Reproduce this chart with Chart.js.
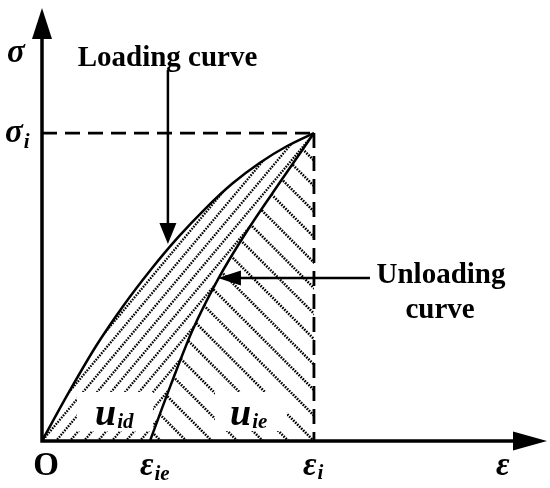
<!DOCTYPE html>
<html><head><meta charset="utf-8">
<script src="https://cdn.jsdelivr.net/npm/chart.js@4.4.0/dist/chart.umd.min.js"></script>
<style>html,body{margin:0;padding:0;background:#fff}#wrap{width:550px;height:488px;position:relative}</style>
</head><body><div id="wrap"><canvas id="c"></canvas></div>
<script>
// ---- data (strain normalised to eps_i, stress normalised to sigma_i) ----
const loadStrain   = [0, 0.1, 0.2, 0.3, 0.4, 0.5, 0.6, 0.7, 0.8, 0.9, 1.0];
const loadStress   = [0, 0.16, 0.31, 0.44, 0.556, 0.661, 0.754, 0.836, 0.903, 0.957, 1.0];
const unloadStrain = [0.397, 0.474, 0.551, 0.647, 0.754, 0.875, 1.0];
const unloadStress = [0, 0.183, 0.355, 0.525, 0.682, 0.840, 1.0];
const peakStrain = [1.0];
const peakStress = [1.0];
const strainTickValues = [0, 0.397, 1.0];
const strainTickLabels = [['O', ''], ['ε', 'ie'], ['ε', 'i']];
const stressTickValues = [1.0];
const stressTickLabels = [['σ', 'i']];
const axisTitles = ['ε', 'σ'];
const curveNotes = ['Loading curve', 'Unloading', 'curve'];
const areaNotes = [['u', 'id'], ['u', 'ie']];

const pts = (xs, ys) => xs.map((x, i) => ({x, y: ys[i]}));
const SERIF = '"Liberation Serif","Times New Roman",serif';

function trace(ctx, P, reverse, first) {
  const n = P.length;
  const hasCp = P[0].cp1x !== undefined;
  if (!reverse) {
    first ? ctx.moveTo(P[0].x, P[0].y) : ctx.lineTo(P[0].x, P[0].y);
    for (let i = 1; i < n; i++) {
      if (hasCp) ctx.bezierCurveTo(P[i-1].cp2x, P[i-1].cp2y, P[i].cp1x, P[i].cp1y, P[i].x, P[i].y);
      else ctx.lineTo(P[i].x, P[i].y);
    }
  } else {
    first ? ctx.moveTo(P[n-1].x, P[n-1].y) : ctx.lineTo(P[n-1].x, P[n-1].y);
    for (let i = n - 2; i >= 0; i--) {
      if (hasCp) ctx.bezierCurveTo(P[i+1].cp1x, P[i+1].cp1y, P[i].cp2x, P[i].cp2y, P[i].x, P[i].y);
      else ctx.lineTo(P[i].x, P[i].y);
    }
  }
}

function hatch(ctx, y0, dir, spacing, angleDeg, anchorX) {
  const k = 1 / Math.tan(angleDeg * Math.PI / 180);
  ctx.beginPath();
  for (let c = anchorX - 60 * spacing; c < anchorX + 60 * spacing; c += spacing) {
    const yTop = -20, yBot = y0 + 20;
    ctx.moveTo(c + dir * (y0 - yBot) * k, yBot);
    ctx.lineTo(c + dir * (y0 - yTop) * k, yTop);
  }
  ctx.stroke();
}

function arrowHead(ctx, tx, ty, dx, dy, len, half) {
  const bx = tx - dx * len, by = ty - dy * len;
  ctx.beginPath();
  ctx.moveTo(tx, ty);
  ctx.lineTo(bx - dy * half, by + dx * half);
  ctx.lineTo(bx + dy * half, by - dx * half);
  ctx.closePath();
  ctx.fill();
}

function subText(ctx, main, sub, x, y, mainFont, subFont, dy) {
  ctx.font = mainFont;
  ctx.textAlign = 'left';
  ctx.fillText(main, x, y);
  const w = ctx.measureText(main).width;
  ctx.font = subFont;
  ctx.fillText(sub, x + w + 1, y + dy);
}

const sketch = {
  id: 'sketch',
  beforeDatasetsDraw(chart) {
    const ctx = chart.ctx, xs = chart.scales.x, ys = chart.scales.y;
    const mL = chart.getDatasetMeta(0), mU = chart.getDatasetMeta(1);
    try { mL.dataset.updateControlPoints(chart.chartArea, 'x'); mU.dataset.updateControlPoints(chart.chartArea, 'x'); } catch (e) {}
    const L = mL.data, U = mU.data;
    const y0 = ys.getPixelForValue(0);
    const xp = xs.getPixelForValue(peakStrain[0]);
    ctx.save();
    ctx.strokeStyle = '#000';
    ctx.lineWidth = 2.3;
    ctx.setLineDash([1.6, 1.2]);
    // region u_id : between loading and unloading curves
    ctx.save();
    ctx.beginPath();
    trace(ctx, L, false, true);
    trace(ctx, U, true, false);
    ctx.closePath();
    ctx.clip();
    hatch(ctx, y0, 1, 14, 50, xs.getPixelForValue(0));
    ctx.restore();
    // region u_ie : under the unloading curve up to eps_i
    ctx.save();
    ctx.lineWidth = 2.6;
    ctx.beginPath();
    trace(ctx, U, false, true);
    ctx.lineTo(xp, y0);
    ctx.closePath();
    ctx.clip();
    hatch(ctx, y0, -1, 25.5, 45, xp);
    ctx.restore();
    ctx.restore();
    // white patches behind area labels
    ctx.save();
    ctx.fillStyle = '#fff';
    const xe = xs.getPixelForValue(strainTickValues[1]);
    ctx.fillRect(xs.getPixelForValue(0) + 35, y0 - 49, xe - xs.getPixelForValue(0) - 32, 39);
    ctx.fillRect(xe + 65, y0 - 49, 72, 39);
    ctx.restore();
  },
  afterDatasetsDraw(chart) {
    const ctx = chart.ctx, xs = chart.scales.x, ys = chart.scales.y;
    const x0 = xs.getPixelForValue(0), y0 = ys.getPixelForValue(0);
    const xEnd = chart.chartArea.right, yEnd = chart.chartArea.top;
    ctx.save();
    ctx.fillStyle = '#000';
    ctx.strokeStyle = '#000';
    // axes
    ctx.lineWidth = 3.5;
    ctx.beginPath();
    ctx.moveTo(x0, y0 + 1.5);
    ctx.lineTo(x0, yEnd + 25);
    ctx.moveTo(x0 - 1.5, y0);
    ctx.lineTo(xEnd - 25, y0);
    ctx.stroke();
    arrowHead(ctx, x0, yEnd, 0, -1, 31, 10);
    arrowHead(ctx, xEnd, y0, 1, 0, 34, 9.5);
    // annotation arrows
    ctx.lineWidth = 2.5;
    const ax = xs.getPixelForValue(0.463);
    const aTip = ys.getPixelForValue(0.64);
    ctx.beginPath();
    ctx.moveTo(ax, ys.getPixelForValue(1.205));
    ctx.lineTo(ax, aTip - 15);
    ctx.stroke();
    arrowHead(ctx, ax, aTip, 0, 1, 21, 8.5);
    const by = ys.getPixelForValue(0.529);
    const bTip = xs.getPixelForValue(0.647);
    ctx.beginPath();
    ctx.moveTo(xs.getPixelForValue(1.206), by);
    ctx.lineTo(bTip + 15, by);
    ctx.stroke();
    arrowHead(ctx, bTip, by, -1, 0, 23, 7.5);

    // texts
    ctx.textBaseline = 'alphabetic';
    const big = 'bold 29px ' + SERIF;
    ctx.font = big;
    ctx.textAlign = 'center';
    ctx.fillText(curveNotes[0], 167.5, 66);
    ctx.fillText(curveNotes[1], 441, 283);
    ctx.fillText(curveNotes[2], 440, 318);

    const greek = 'bold italic 33px ' + SERIF;
    const subF = 'bold italic 21px ' + SERIF;
    ctx.font = greek;
    ctx.textAlign = 'left';
    ctx.fillText(axisTitles[1], x0 - 35, 62);
    ctx.fillText(axisTitles[0], xEnd - 51, y0 + 34);
    subText(ctx, stressTickLabels[0][0], stressTickLabels[0][1], x0 - 37, ys.getPixelForValue(stressTickValues[0]) + 9, greek, subF, 6);
    ctx.font = 'bold 33px ' + SERIF;
    ctx.textAlign = 'center';
    ctx.fillText(strainTickLabels[0][0], x0 + 4, y0 + 34);
    subText(ctx, strainTickLabels[1][0], strainTickLabels[1][1], xs.getPixelForValue(strainTickValues[1]) - 10, y0 + 34, greek, subF, 5);
    subText(ctx, strainTickLabels[2][0], strainTickLabels[2][1], xs.getPixelForValue(strainTickValues[2]) - 11, y0 + 34, greek, subF, 4);
    const uF = 'bold italic 38px ' + SERIF;
    subText(ctx, areaNotes[0][0], areaNotes[0][1], x0 + 53, y0 - 16, uF, subF, 3);
    subText(ctx, areaNotes[1][0], areaNotes[1][1], x0 + 188, y0 - 16, uF, subF, 3);
    ctx.restore();
  }
};

const lineStyle = {borderColor: '#000', pointRadius: 0, showLine: true, fill: false, clip: false};
new Chart(document.getElementById('c'), {
  type: 'scatter',
  data: {
    datasets: [
      {...lineStyle, label: 'Loading curve', data: pts(loadStrain, loadStress), borderWidth: 2.5, cubicInterpolationMode: 'monotone'},
      {...lineStyle, label: 'Unloading curve', data: pts(unloadStrain, unloadStress), borderWidth: 2.5, cubicInterpolationMode: 'monotone'},
      {...lineStyle, label: 'sigma_i', data: [{x: 0, y: peakStress[0]}, {x: peakStrain[0], y: peakStress[0]}], borderWidth: 2.8, borderDash: [15, 8]},
      {...lineStyle, label: 'eps_i', data: [{x: peakStrain[0], y: peakStress[0]}, {x: peakStrain[0], y: 0}], borderWidth: 2.8, borderDash: [15, 8]}
    ]
  },
  options: {
    responsive: true,
    maintainAspectRatio: false,
    animation: false,
    layout: {padding: {left: 42, right: 3, top: 8, bottom: 47}},
    scales: {
      x: {type: 'linear', min: 0, max: 1.857, display: false},
      y: {type: 'linear', min: 0, max: 1.406, display: false}
    },
    plugins: {legend: {display: false}, tooltip: {enabled: false}}
  },
  plugins: [sketch]
});
</script>
</body></html>
